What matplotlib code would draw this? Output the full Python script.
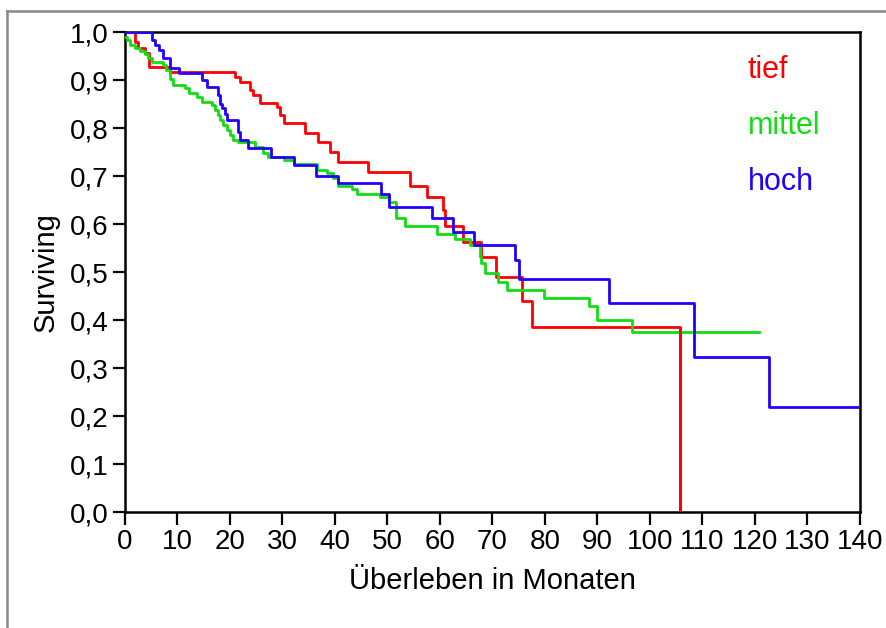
import matplotlib
matplotlib.use("Agg")
import matplotlib.pyplot as plt
from matplotlib.lines import Line2D

# Kaplan-Meier step curves (months, surviving fraction)
t_tief = [0, 1.9, 2.5, 3.8, 4.6, 8.6, 21.0, 21.9, 23.8, 24.4, 25.7, 28.9, 29.5,
          30.2, 34.3, 36.8, 39.0, 40.6, 46.3, 54.3, 57.5, 60.6, 61.0, 64.4,
          67.9, 70.7, 75.7, 77.6, 105.7]
s_tief = [1.0, 0.98, 0.967, 0.956, 0.928, 0.917, 0.907, 0.896, 0.879, 0.869,
          0.852, 0.844, 0.827, 0.81, 0.79, 0.77, 0.75, 0.73, 0.709, 0.68, 0.657,
          0.629, 0.596, 0.563, 0.532, 0.49, 0.44, 0.385, 0.0]

t_mittel = [0, 0.3, 1.0, 1.9, 2.9, 3.8, 4.4, 5.1, 7.3, 7.9, 8.6, 9.2, 11.4, 12.1,
            13.7, 14.6, 16.5, 17.1, 17.8, 18.1, 18.7, 19.4, 20.0, 20.6, 21.6,
            24.8, 26.3, 27.3, 30.2, 32.1, 36.5, 38.4, 39.7, 40.6, 43.2, 44.1,
            48.6, 50.2, 51.7, 53.3, 59.4, 62.9, 65.7, 67.6, 67.9, 68.6, 71.0,
            72.7, 79.8, 88.4, 90.0, 96.6, 120.8]
s_mittel = [0.99, 0.983, 0.973, 0.966, 0.96, 0.955, 0.945, 0.938, 0.931, 0.921,
            0.903, 0.89, 0.883, 0.872, 0.865, 0.855, 0.848, 0.8375, 0.827, 0.817,
            0.806, 0.796, 0.785, 0.775, 0.77, 0.761, 0.747, 0.74, 0.733, 0.726,
            0.7125, 0.707, 0.695, 0.679, 0.672, 0.662, 0.657, 0.646, 0.612,
            0.596, 0.579, 0.568, 0.556, 0.532, 0.518, 0.497, 0.48, 0.4625,
            0.446, 0.43, 0.401, 0.374, 0.374]

t_hoch = [0, 5.1, 5.7, 6.5, 7.2, 8.6, 10.2, 14.6, 15.7, 17.8, 18.1, 18.4, 19.0,
          19.4, 21.6, 21.9, 23.5, 27.9, 32.1, 36.4, 40.6, 48.8, 50.2, 58.5,
          62.5, 66.5, 74.3, 75.1, 92.1, 108.4, 122.7, 139.7]
s_hoch = [1.0, 0.983, 0.973, 0.9625, 0.945, 0.924, 0.914, 0.9, 0.886, 0.869,
          0.851, 0.841, 0.83, 0.817, 0.792, 0.775, 0.758, 0.74, 0.723, 0.7,
          0.685, 0.662, 0.635, 0.612, 0.584, 0.556, 0.524, 0.485, 0.435,
          0.3236, 0.219, 0.219]

groups = ["tief", "mittel", "hoch"]
colors = ["#ff0000", "#11dd11", "#2200ff"]
x_ticks = list(range(0, 141, 10))
y_ticks = [i / 10 for i in range(11)]
y_labels = ["0,0", "0,1", "0,2", "0,3", "0,4", "0,5", "0,6", "0,7", "0,8", "0,9", "1,0"]

plt.rcParams['font.family'] = ['Liberation Sans', 'DejaVu Sans']

W, H = 887, 628
fig = plt.figure(figsize=(W / 100, H / 100), dpi=100)
ax = fig.add_axes([125 / W, 1 - 512 / H, 735 / W, 480 / H])

# grey outer frame (only top and left edges show)
fig.add_artist(Line2D([7.5 / W, 7.5 / W], [1 - 11 / H, 0], color="#888888", lw=1.8,
                      transform=fig.transFigure))
fig.add_artist(Line2D([7 / W, 1], [1 - 11 / H, 1 - 11 / H], color="#888888", lw=1.8,
                      transform=fig.transFigure))

series = [(t_tief, s_tief), (t_mittel, s_mittel), (t_hoch, s_hoch)]
for (t, s), c in zip(series, colors):
    ax.plot(t, s, drawstyle="steps-post", color=c, lw=2, zorder=3)
# final drop of 'tief' to zero
ax.vlines(t_tief[-1], 0, s_tief[-2], color=colors[0], lw=2, zorder=3)

ax.set_xlim(0, 140)
ax.set_ylim(0, 1.0)
ax.set_xticks(x_ticks)
ax.set_yticks(y_ticks)
ax.set_yticklabels(y_labels)
ax.tick_params(direction="out", length=9, width=1.6, labelsize=20, pad=3)
for sp in ax.spines.values():
    sp.set_linewidth(1.8)

ax.set_xlabel("Überleben in Monaten", fontsize=21, labelpad=9)
ax.set_ylabel("Surviving", fontsize=21, labelpad=7)

for i, (g, c) in enumerate(zip(groups, colors)):
    fig.text(748 / W, 1 - (78 + 56 * i) / H, g, color=c, fontsize=22, va="baseline")

fig.savefig("out.png", dpi=100)
